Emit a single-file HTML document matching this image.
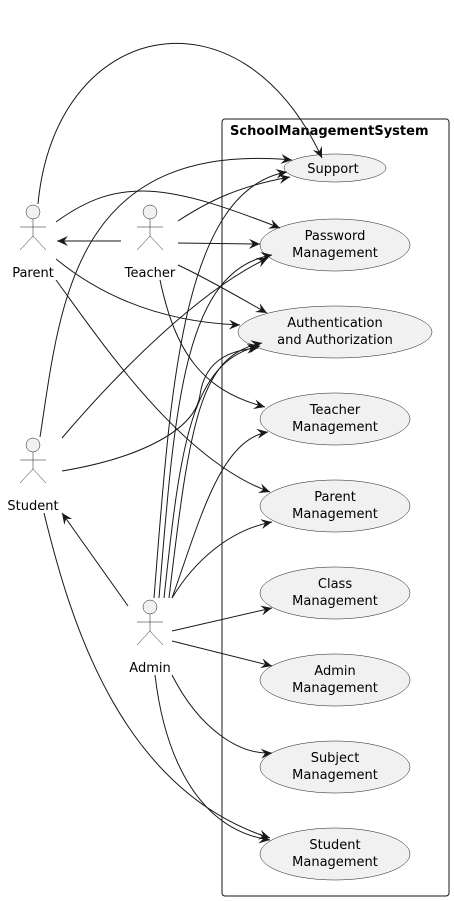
<!DOCTYPE html>
<html><head><meta charset="utf-8"><style>
html,body{margin:0;padding:0;background:#fff;}
svg{display:block;font-family:"DejaVu Sans","Liberation Sans",sans-serif;}
</style></head><body>
<svg width="454" height="901" viewBox="0 0 454 901" xmlns="http://www.w3.org/2000/svg">
<defs>
<marker id="a" viewBox="0 0 12 10" refX="11" refY="5" markerWidth="12" markerHeight="10" markerUnits="userSpaceOnUse" orient="auto">
<path d="M0,0 L11,5 L0,10 L4,5 Z" fill="#181818"/>
</marker>
</defs>
<rect x="222" y="119" width="227" height="777" rx="3" fill="none" stroke="#181818" stroke-width="1"/>
<text x="230" y="135" font-size="13" font-weight="bold" fill="#000">SchoolManagementSystem</text>
<g fill="#f1f1f1" stroke="#181818" stroke-width="0.5">
<ellipse cx="335" cy="168" rx="51" ry="14"/>
<ellipse cx="335" cy="245" rx="75" ry="26"/>
<ellipse cx="335" cy="332" rx="97" ry="26"/>
<ellipse cx="335" cy="419" rx="75" ry="26"/>
<ellipse cx="335" cy="506" rx="75" ry="26"/>
<ellipse cx="335" cy="593" rx="75" ry="26"/>
<ellipse cx="335" cy="680" rx="75" ry="26"/>
<ellipse cx="335" cy="767" rx="75" ry="26"/>
<ellipse cx="335" cy="854" rx="75" ry="26"/>
</g>
<g font-size="13" fill="#000" text-anchor="middle">
<text x="333" y="173">Support</text>
<text x="335" y="240">Password</text><text x="335" y="257">Management</text>
<text x="335" y="327">Authentication</text><text x="335" y="344">and Authorization</text>
<text x="335" y="414">Teacher</text><text x="335" y="431">Management</text>
<text x="335" y="501">Parent</text><text x="335" y="518">Management</text>
<text x="335" y="588">Class</text><text x="335" y="605">Management</text>
<text x="335" y="675">Admin</text><text x="335" y="692">Management</text>
<text x="335" y="762">Subject</text><text x="335" y="779">Management</text>
<text x="335" y="849">Student</text><text x="335" y="866">Management</text>
</g>
<g fill="#f1f1f1" stroke="#181818" stroke-width="0.5">
<g transform="translate(33,0)"><circle cx="0" cy="212" r="7"/><path d="M0,219V236M-13,227H13M-13,250L0,236L13,250" fill="none"/></g>
<g transform="translate(150,0)"><circle cx="0" cy="212" r="7"/><path d="M0,219V236M-13,227H13M-13,250L0,236L13,250" fill="none"/></g>
<g transform="translate(33,233)"><circle cx="0" cy="212" r="7"/><path d="M0,219V236M-13,227H13M-13,250L0,236L13,250" fill="none"/></g>
<g transform="translate(150,395)"><circle cx="0" cy="212" r="7"/><path d="M0,219V236M-13,227H13M-13,250L0,236L13,250" fill="none"/></g>
</g>
<g font-size="13" fill="#000" text-anchor="middle">
<text x="33" y="277">Parent</text>
<text x="150" y="277">Teacher</text>
<text x="33" y="510">Student</text>
<text x="150" y="672">Admin</text>
</g>
<g fill="none" stroke="#181818" stroke-width="1" marker-end="url(#a)">
<path d="M38,204 C55,20 240,-20 322,158"/>
<path d="M56,222 C120,175 170,185 280,228"/>
<path d="M121,241 L57,241"/>
<path d="M56,259 C100,295 160,322 240,325"/>
<path d="M56,280 C100,340 180,460 270,492"/>
<path d="M178,221 C210,200 240,186 290,177"/>
<path d="M178,243 L260,244"/>
<path d="M178,265 C210,280 240,298 267,313"/>
<path d="M160,280 C175,350 200,390 265,407"/>
<path d="M40,437 C60,310 70,140 292,160"/>
<path d="M62,438 C120,370 200,290 268,258"/>
<path d="M62,471 C140,458 195,430 200,395 C205,360 230,350 258,348"/>
<path d="M44,513 C70,620 120,790 270,838"/>
<path d="M128,606 L62,513"/>
<path d="M154,598 C170,400 180,190 287,172"/>
<path d="M159,598 C175,400 185,270 272,255"/>
<path d="M164,598 C180,450 190,360 260,346"/>
<path d="M169,598 C190,420 200,355 262,343"/>
<path d="M172,598 C200,520 220,440 268,432"/>
<path d="M172,598 C195,560 230,530 272,522"/>
<path d="M172,631 L272,608"/>
<path d="M172,641 L272,666"/>
<path d="M172,675 C200,730 240,755 272,753"/>
<path d="M155,675 C165,760 200,830 270,840"/>
</g>
</svg>
</body></html>
